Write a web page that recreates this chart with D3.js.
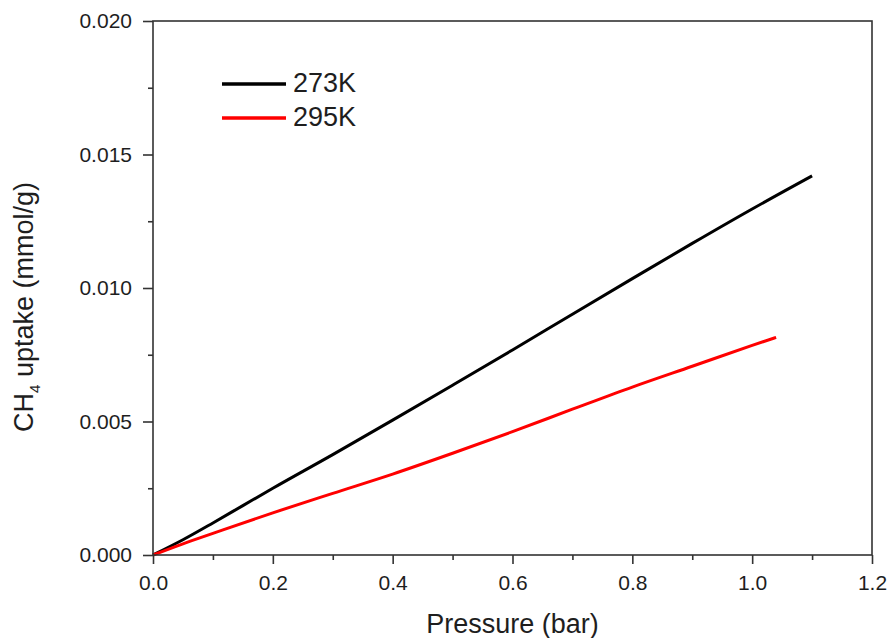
<!DOCTYPE html>
<html>
<head>
<meta charset="utf-8">
<script src="https://cdn.jsdelivr.net/npm/d3@7"></script>
<style>
  html, body { margin: 0; padding: 0; background: #fff; }
  svg text { font-family: "Liberation Sans", Arial, sans-serif; fill: #1e1e1e; }
</style>
</head>
<body>
<svg id="chart" width="888" height="638"></svg>
<script>
// CH4 uptake isotherms
const pressure273 = [0, 0.05, 0.1, 0.15, 0.2, 0.3, 0.4, 0.5, 0.6, 0.7, 0.8, 0.9, 1.0, 1.1];
const uptake273   = [0, 0.00057, 0.0012, 0.00185, 0.0025, 0.00376, 0.00505, 0.00636, 0.00768, 0.00902, 0.01035, 0.01167, 0.01296, 0.0142];
const pressure295 = [0, 0.05, 0.1, 0.2, 0.3, 0.4, 0.5, 0.6, 0.7, 0.8, 0.9, 1.0, 1.04];
const uptake295   = [0, 0.00042, 0.00081, 0.00158, 0.00231, 0.00303, 0.00381, 0.00462, 0.00546, 0.00629, 0.00707, 0.00785, 0.00815];

const xMajorTicks = [0, 0.2, 0.4, 0.6, 0.8, 1.0, 1.2];
const xMinorTicks = [0.1, 0.3, 0.5, 0.7, 0.9, 1.1];
const yMajorTicks = [0, 0.005, 0.010, 0.015, 0.020];
const yMinorTicks = [0.0025, 0.0075, 0.0125, 0.0175];

const seriesNames  = ["273K", "295K"];
const seriesColors = ["#000000", "#ff0000"];

const svg = d3.select("#chart");
const margin = { left: 153, right: 16, top: 21, bottom: 83 };
const W = 888, H = 638;
const x = d3.scaleLinear().domain([0, 1.2]).range([margin.left, W - margin.right]);
const y = d3.scaleLinear().domain([0, 0.020]).range([H - margin.bottom, margin.top]);

const axisColor = "#333";

// data lines
const series = [
  { name: seriesNames[0], color: seriesColors[0], pts: pressure273.map((p, i) => [p, uptake273[i]]) },
  { name: seriesNames[1], color: seriesColors[1], pts: pressure295.map((p, i) => [p, uptake295[i]]) }
];
const line = d3.line().x(d => x(d[0])).y(d => y(d[1])).curve(d3.curveMonotoneX);
svg.append("g").selectAll("path").data(series).join("path")
  .attr("d", d => line(d.pts))
  .attr("fill", "none")
  .attr("stroke", d => d.color)
  .attr("stroke-width", 3)
  .attr("stroke-linejoin", "round");

// frame
svg.append("rect")
  .attr("x", x(0)).attr("y", y(0.020))
  .attr("width", x(1.2) - x(0)).attr("height", y(0) - y(0.020))
  .attr("fill", "none").attr("stroke", axisColor).attr("stroke-width", 1.6);

// x axis
const gx = svg.append("g").attr("transform", `translate(0,${y(0)})`);
gx.call(d3.axisBottom(x).tickValues(xMajorTicks).tickSize(9).tickPadding(11).tickFormat(d3.format(".1f")));
gx.append("g").call(d3.axisBottom(x).tickValues(xMinorTicks).tickSize(5).tickFormat(""));
gx.selectAll(".domain").remove();
gx.selectAll("line").attr("stroke", axisColor).attr("stroke-width", 1.6);
gx.selectAll("text").style("font-size", "21px").attr("fill", "#1e1e1e");

// y axis
const gy = svg.append("g").attr("transform", `translate(${x(0)},0)`);
gy.call(d3.axisLeft(y).tickValues(yMajorTicks).tickSize(10).tickPadding(11).tickFormat(d3.format(".3f")));
gy.append("g").call(d3.axisLeft(y).tickValues(yMinorTicks).tickSize(5).tickFormat(""));
gy.selectAll(".domain").remove();
gy.selectAll("line").attr("stroke", axisColor).attr("stroke-width", 1.6);
gy.selectAll("text").style("font-size", "21px").attr("fill", "#1e1e1e");

// axis titles
svg.append("text")
  .attr("x", (x(0) + x(1.2)) / 2).attr("y", 633)
  .attr("text-anchor", "middle")
  .style("font-size", "27px")
  .text("Pressure (bar)");

const yt = svg.append("text")
  .attr("transform", "translate(33,307) rotate(-90)")
  .attr("text-anchor", "middle")
  .style("font-size", "27px");
yt.append("tspan").text("CH");
yt.append("tspan").attr("dy", 7).style("font-size", "15px").text("4");
yt.append("tspan").attr("dy", -7).text(" uptake (mmol/g)");

// legend
const lg = svg.append("g").selectAll("g").data(series).join("g")
  .attr("transform", (d, i) => `translate(222,${84 + i * 34})`);
lg.append("line")
  .attr("x1", 0).attr("x2", 64).attr("y1", 0).attr("y2", 0)
  .attr("stroke", d => d.color).attr("stroke-width", 3.5);
lg.append("text")
  .attr("x", 71).attr("y", 8)
  .style("font-size", "27px")
  .text(d => d.name);
</script>
</body>
</html>
